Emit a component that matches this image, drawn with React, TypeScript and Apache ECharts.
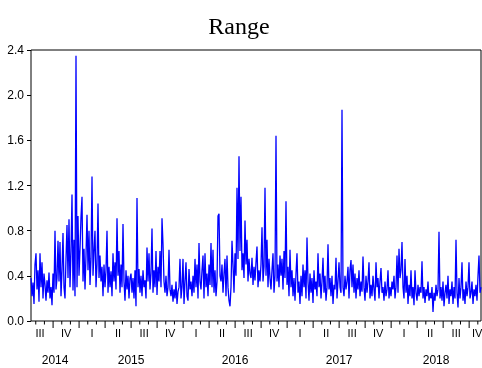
import React, { useEffect, useRef } from "react";
import * as echarts from "echarts";

// Observation span (daily range series, evenly spaced observations)
const firstDate = "2014-07-15";
const lastDate = "2018-11-12";

// Range values, in time order
const rangeValues: number[] = [
  0.38, 0.22, 0.34, 0.15, 0.50, 0.60, 0.28, 0.45, 0.17, 0.60,
  0.30, 0.52, 0.20, 0.42, 0.32, 0.18, 0.36, 0.25, 0.43, 0.20,
  0.30, 0.14, 0.42, 0.25, 0.80, 0.28, 0.38, 0.71, 0.35, 0.70,
  0.22, 0.45, 0.78, 0.30, 0.20, 0.55, 0.85, 0.38, 0.90, 0.30,
  0.62, 1.12, 0.27, 0.72, 0.22, 2.35, 0.30, 0.93, 0.40, 0.64,
  0.92, 1.10, 0.35, 0.64, 0.28, 0.58, 0.94, 0.45, 0.80, 0.32,
  0.55, 1.28, 0.40, 0.62, 0.80, 0.30, 0.50, 1.04, 0.38, 0.58,
  0.35, 0.48, 0.22, 0.50, 0.30, 0.45, 0.80, 0.25, 0.48, 0.30,
  0.44, 0.22, 0.60, 0.35, 0.52, 0.28, 0.91, 0.40, 0.62, 0.25,
  0.50, 0.30, 0.86, 0.35, 0.18, 0.45, 0.28, 0.40, 0.20, 0.38,
  0.42, 0.25, 0.38, 0.20, 0.45, 0.13, 1.09, 0.30, 0.46, 0.25,
  0.40, 0.22, 0.45, 0.30, 0.36, 0.20, 0.65, 0.35, 0.60, 0.28,
  0.42, 0.82, 0.25, 0.45, 0.30, 0.62, 0.23, 0.48, 0.35, 0.62,
  0.30, 0.91, 0.68, 0.35, 0.25, 0.40, 0.22, 0.30, 0.63, 0.28,
  0.22, 0.32, 0.17, 0.28, 0.20, 0.35, 0.15, 0.26, 0.30, 0.55,
  0.20, 0.30, 0.55, 0.15, 0.35, 0.52, 0.22, 0.18, 0.46, 0.28,
  0.35, 0.22, 0.40, 0.25, 0.55, 0.30, 0.50, 0.20, 0.69, 0.35,
  0.28, 0.45, 0.58, 0.20, 0.60, 0.30, 0.42, 0.22, 0.50, 0.32,
  0.69, 0.30, 0.63, 0.25, 0.45, 0.22, 0.35, 0.93, 0.95, 0.40,
  0.35, 0.50, 0.25, 0.42, 0.55, 0.22, 0.58, 0.30, 0.18, 0.13,
  0.30, 0.71, 0.50, 0.25, 0.60, 0.40, 1.18, 0.55, 1.46, 0.62,
  1.10, 0.45, 0.60, 0.38, 0.89, 0.50, 0.72, 0.35, 0.55, 0.42,
  0.38, 0.56, 0.32, 0.48, 0.36, 0.52, 0.66, 0.30, 0.45, 0.35,
  0.50, 0.83, 0.35, 0.48, 1.18, 0.40, 0.72, 0.30, 0.55, 0.38,
  0.28, 0.45, 0.60, 0.25, 0.40, 1.64, 0.35, 0.50, 0.30, 0.58,
  0.40, 0.55, 0.28, 0.62, 0.38, 1.06, 0.32, 0.48, 0.22, 0.63,
  0.30, 0.45, 0.22, 0.38, 0.18, 0.42, 0.60, 0.25, 0.35, 0.15,
  0.40, 0.22, 0.50, 0.30, 0.45, 0.20, 0.74, 0.35, 0.18, 0.42,
  0.25, 0.38, 0.16, 0.45, 0.28, 0.35, 0.22, 0.60, 0.30, 0.42,
  0.20, 0.35, 0.56, 0.25, 0.40, 0.18, 0.30, 0.68, 0.28, 0.38,
  0.22, 0.40, 0.15, 0.32, 0.28, 0.56, 0.20, 0.35, 0.52, 0.30,
  0.25, 1.87, 0.30, 0.22, 0.40, 0.28, 0.35, 0.48, 0.20, 0.45,
  0.54, 0.30, 0.50, 0.25, 0.42, 0.20, 0.38, 0.28, 0.45, 0.22,
  0.35, 0.26, 0.57, 0.30, 0.18, 0.40, 0.25, 0.35, 0.52, 0.20,
  0.32, 0.22, 0.40, 0.28, 0.18, 0.52, 0.30, 0.38, 0.20, 0.35,
  0.47, 0.25, 0.30, 0.18, 0.35, 0.22, 0.28, 0.45, 0.20, 0.30,
  0.22, 0.35, 0.28, 0.40, 0.20, 0.30, 0.58, 0.25, 0.64, 0.38,
  0.45, 0.70, 0.30, 0.20, 0.55, 0.25, 0.40, 0.15, 0.32, 0.22,
  0.45, 0.20, 0.30, 0.14, 0.45, 0.25, 0.18, 0.32, 0.22, 0.30,
  0.25, 0.53, 0.20, 0.30, 0.16, 0.28, 0.22, 0.35, 0.18, 0.25,
  0.20, 0.30, 0.08, 0.25, 0.18, 0.32, 0.22, 0.28, 0.79, 0.20,
  0.30, 0.18, 0.35, 0.13, 0.25, 0.32, 0.20, 0.40, 0.15, 0.28,
  0.22, 0.35, 0.15, 0.30, 0.20, 0.72, 0.25, 0.12, 0.38, 0.20,
  0.30, 0.52, 0.18, 0.28, 0.15, 0.35, 0.22, 0.30, 0.52, 0.20,
  0.25, 0.35, 0.15, 0.28, 0.22, 0.32, 0.18, 0.40, 0.58, 0.25, 0.30,
];

// Axis labels
const yTickValues = [0, 0.4, 0.8, 1.2, 1.6, 2.0, 2.4];
const quarterLabels = [
  "III", "IV",
  "I", "II", "III", "IV",
  "I", "II", "III", "IV",
  "I", "II", "III", "IV",
  "I", "II", "III", "IV",
];
const firstQuarterStartMonth = 6; // July 2014, in months since Jan 2014
const yearLabels = ["2014", "2015", "2016", "2017", "2018"];
const baseYear = 2014;

function monthCoord(d: string): number {
  const [y, m, day] = d.split("-").map(Number);
  const dim = new Date(y, m, 0).getDate();
  return (y - baseYear) * 12 + (m - 1) + (day - 1) / dim;
}

export default function App() {
  const ref = useRef<HTMLDivElement>(null);

  useEffect(() => {
    if (!ref.current) return;
    const chart = echarts.init(ref.current, undefined, { renderer: "svg" });

    const xMin = monthCoord(firstDate);
    const xMax = monthCoord(lastDate);
    const n = rangeValues.length;
    const lineData = rangeValues.map((v, i) => [
      xMin + (i * (xMax - xMin)) / (n - 1),
      v,
    ]);

    // Axis decoration items: monthly ticks, quarter labels, year labels
    type Item = { m: number; kind: number; text?: string };
    const items: Item[] = [];
    for (let m = Math.ceil(xMin); m <= Math.floor(xMax); m++) {
      items.push({ m, kind: m % 3 === 0 ? 1 : 0 });
    }
    quarterLabels.forEach((q, i) => {
      const s = firstQuarterStartMonth + i * 3;
      const c = Math.min(s + 1.5, xMax - 0.45);
      items.push({ m: c, kind: 2, text: q });
    });
    yearLabels.forEach((yl) => {
      const s = Math.max((Number(yl) - baseYear) * 12, xMin);
      const e = Math.min((Number(yl) - baseYear + 1) * 12, xMax);
      items.push({ m: (s + e) / 2, kind: 3, text: yl });
    });

    const font = "Liberation Sans, Arial, Helvetica, sans-serif";

    chart.setOption({
      animation: false,
      grid: {
        left: 31,
        right: 1,
        top: 50,
        bottom: 47,
        show: true,
        borderColor: "#000",
        borderWidth: 1,
        backgroundColor: "transparent",
      },
      graphic: [
        {
          type: "text",
          x: 239,
          y: 26,
          style: {
            text: "Range",
            fontSize: 24,
            fontFamily: "Liberation Serif, Times New Roman, serif",
            fill: "#000",
            align: "center",
            verticalAlign: "middle",
          },
        },
      ],
      xAxis: {
        type: "value",
        min: xMin,
        max: xMax,
        axisLine: { show: false },
        axisTick: { show: false },
        axisLabel: { show: false },
        splitLine: { show: false },
      },
      yAxis: {
        type: "value",
        min: 0,
        max: 2.4,
        interval: 0.4,
        axisLine: { show: false },
        axisTick: {
          show: true,
          length: 4,
          lineStyle: { color: "#000", width: 1 },
          customValues: yTickValues,
        },
        axisLabel: {
          show: true,
          margin: 7,
          color: "#000",
          fontSize: 12,
          fontFamily: font,
          formatter: (v: number) => v.toFixed(1),
          customValues: yTickValues,
        },
        splitLine: { show: false },
      },
      series: [
        {
          type: "line",
          data: lineData,
          showSymbol: false,
          symbol: "none",
          lineStyle: { color: "#0000ff", width: 1.3 },
          z: 3,
        },
        {
          type: "custom",
          clip: false,
          silent: true,
          data: items.map((it) => [it.m, 0]),
          renderItem: (params: any, api: any) => {
            const it = items[params.dataIndex];
            const p = api.coord([it.m, 0]);
            if (it.kind === 0 || it.kind === 1) {
              const len = it.kind === 1 ? 7 : 3.5;
              return {
                type: "line",
                shape: { x1: p[0], y1: p[1], x2: p[0], y2: p[1] + len },
                style: { stroke: "#000", lineWidth: 1 },
              };
            }
            return {
              type: "text",
              x: p[0],
              y: p[1] + (it.kind === 2 ? 12 : 39),
              style: {
                text: it.text,
                fill: "#000",
                fontSize: it.kind === 2 ? 11 : 12,
                fontFamily: font,
                align: "center",
                verticalAlign: "middle",
              },
            };
          },
          z: 4,
        },
      ],
    });

    return () => chart.dispose();
  }, []);

  return (
    <div
      ref={ref}
      style={{ position: "fixed", left: 0, top: 0, width: 482, height: 368 }}
    />
  );
}
